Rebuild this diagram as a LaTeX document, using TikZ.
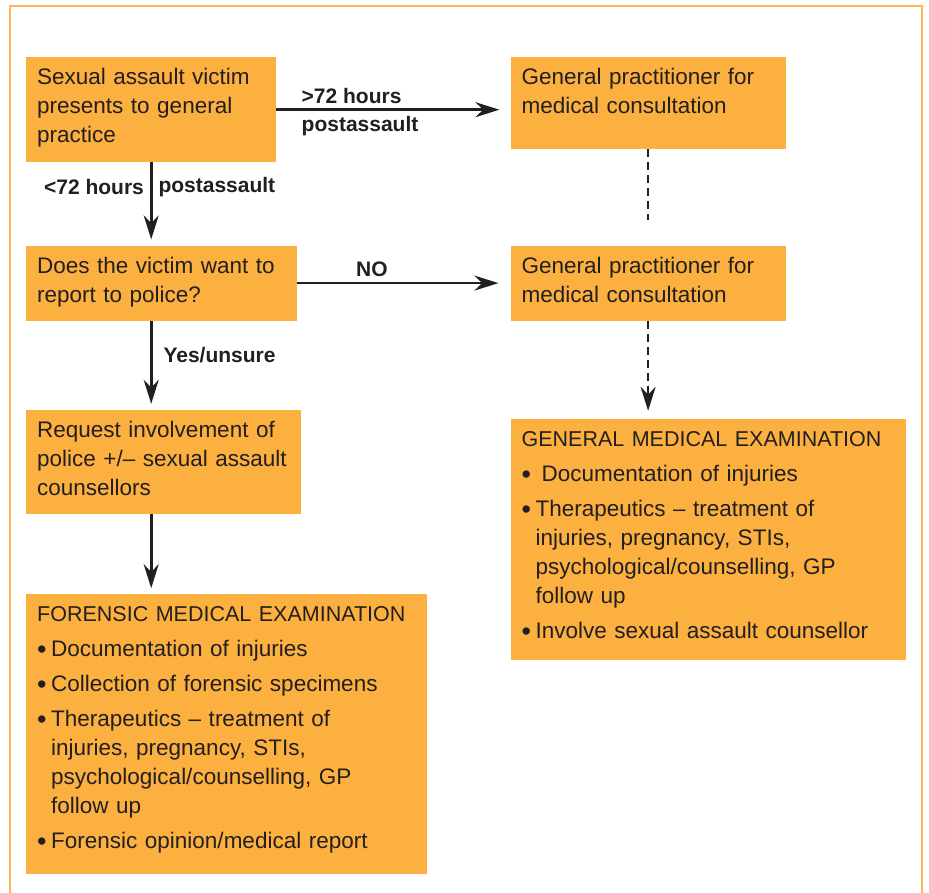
\documentclass[tikz,border=0pt]{standalone}
\usepackage{fontspec}
\setmainfont{Liberation Sans}
\usetikzlibrary{arrows.meta, positioning}
\definecolor{boxorange}{HTML}{FBB040}
\definecolor{frameorange}{HTML}{FDB74E}
\definecolor{textdark}{HTML}{231F20}
\tikzstyle{stepbox} = [fill=boxorange, text=textdark, anchor=north west, align=left,
   inner xsep=11pt, inner ysep=6pt, text height=21.5pt,
   font=\fontsize{22.5}{29}\selectfont]
\tikzstyle{listbox} = [stepbox, font=\fontsize{22.5}{29}\selectfont\setlength{\parskip}{6pt}]
\tikzstyle{flowArrow} = [draw=textdark, line width=2.6pt,
   -{Stealth[length=24pt,width=15pt]}, shorten >=6pt]
\tikzstyle{dashLine} = [draw=textdark, line width=2.6pt, dash pattern=on 8pt off 5pt]
\tikzstyle{edgeLabel} = [text=textdark, inner sep=5pt, font=\fontsize{21}{25}\selectfont\bfseries]
\newcommand{\bitem}[1]{\par\noindent\hangindent=14pt\hangafter=1%
  \makebox[14pt][l]{\raisebox{-1.5pt}{\fontsize{27}{29}\selectfont\textbullet}}#1}
\newcommand{\listtitle}[1]{{\fontsize{21.5}{29}\selectfont #1}}

\begin{document}
\begin{tikzpicture}[x=1pt, y=-1pt]
  \useasboundingbox (0,0) rectangle (929,893);
  \draw[frameorange, line width=2.5pt] (10,893) -- (10,6) -- (922,6) -- (922,893); % open frame

  \node[stepbox, text width=228pt, text depth=71.5pt] (victim) at (26,57)
    {Sexual assault victim\\presents to general\\practice};
  \node[stepbox, text width=253pt, text depth=58.5pt, right=234pt of victim.north east, anchor=north west] (gp1)
    {General practitioner for\\medical consultation};
  \node[stepbox, text width=249pt, text depth=41.5pt, below=83pt of victim.south west, anchor=north west] (report)
    {Does the victim want to\\report to police?};
  \node[stepbox, text width=253pt, text depth=41.5pt, below=96pt of gp1.south west, anchor=north west] (gp2)
    {General practitioner for\\medical consultation};
  \node[stepbox, text width=253pt, text depth=70.5pt, below=89pt of report.south west, anchor=north west] (request)
    {Request involvement of\\police +/– sexual assault\\counsellors};
  \node[listbox, text width=379pt, text depth=246.5pt, below=80pt of request.south west, anchor=north west] (fme)
    {\listtitle{FORENSIC MEDICAL EXAMINATION}
     \bitem{Documentation of injuries}
     \bitem{Collection of forensic specimens}
     \bitem{Therapeutics – treatment of\newline injuries, pregnancy, STIs,\newline psychological/counselling, GP\newline follow up}
     \bitem{Forensic opinion/medical report}};
  \node[listbox, text width=373pt, text depth=207.5pt, below=98pt of gp2.south west, anchor=north west] (gme)
    {\listtitle{GENERAL MEDICAL EXAMINATION}
     \bitem{\hspace{6pt}Documentation of injuries}
     \bitem{Therapeutics – treatment of\newline injuries, pregnancy, STIs,\newline psychological/counselling, GP\newline follow up}
     \bitem{Involve sexual assault counsellor}};

  % arrows
  \draw[flowArrow, shorten >=11pt] (victim.east) -- (victim.east -| gp1.west)
    node[edgeLabel, pos=0, anchor=south west, xshift=19pt] {>72 hours}
    node[edgeLabel, pos=0, anchor=north west, xshift=19pt] {postassault};
  \draw[flowArrow] (victim.south) -- (victim.south |- report.north)
    node[edgeLabel, pos=0.3, left, inner xsep=6pt] {<72 hours}
    node[edgeLabel, pos=0.3, right, inner xsep=6pt] {postassault};
  \draw[flowArrow, shorten >=12pt] (report.east) -- (gp2.west)
    node[edgeLabel, pos=0.35, above] {NO};
  \draw[flowArrow] (report.south -| victim.south) -- (request.north -| victim.south)
    node[edgeLabel, pos=0.38, right, xshift=6pt] {Yes/unsure};
  \draw[flowArrow] (request.south -| victim.south) -- (fme.north -| victim.south);
  \draw[dashLine, shorten >=25pt] (gp1.south) -- (gp1.south |- gp2.north);
  \draw[dashLine, -{Stealth[length=24pt,width=15pt]}, shorten >=8pt] (gp2.south) -- (gp2.south |- gme.north);
\end{tikzpicture}
\end{document}
